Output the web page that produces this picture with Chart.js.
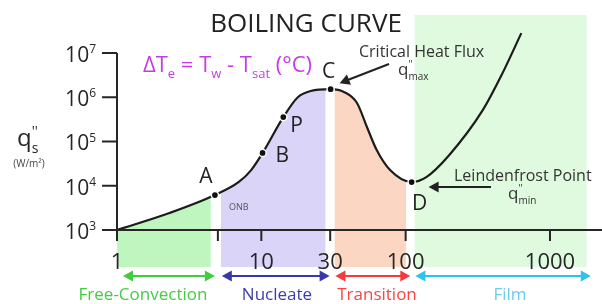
<!DOCTYPE html>
<html>
<head>
<meta charset="utf-8">
<title>Boiling Curve</title>
<script src="https://cdn.jsdelivr.net/npm/chart.js@4"></script>
<style>
    html, body { margin: 0; padding: 0; background: #fff; }
    #wrap { width: 602px; height: 304px; }
</style>
</head>
<body>
<div id="wrap"><canvas id="boiling" width="602" height="304"></canvas></div>
<script>
// excess temperature ΔTe (°C) and surface heat flux q"s (W/m²)
const curveT = [1, 2.31, 4.77, 6.95, 8.5, 10.2, 14.2, 17.9, 22, 30.2, 37.6, 46, 54, 63, 78, 110, 139, 200, 342, 469, 633];
const curveQ = [1e3, 2.42e3, 6.17e3, 1.2e4, 2.26e4, 5.5e4, 3.55e5, 1.0e6, 1.38e6, 1.52e6, 1.3e6, 7.4e5, 2.1e5, 6.4e4, 2.26e4, 1.21e4, 1.57e4, 4.9e4, 5.1e5, 3.5e6, 2.8e7];

const pointNames = ["A", "B", "P", "C", "D"];
const pointT = [4.77, 10.2, 14.2, 30.2, 110];
const pointQ = [6.17e3, 5.5e4, 3.55e5, 1.52e6, 1.21e4];

const T_MIN = 1;
const T_MAX = 2100;
const Q_MIN = 146;
const Q_MAX = 7.2e7;

// boiling regimes: edges in ΔTe and the flux at each edge
const regionNames = ["Free-Convection", "Nucleate", "Transition", "Film"];
const regionFromT = [1, 5.24, 32.1, 115];
const regionToT = [4.47, 27.9, 101, 1800];
const regionFromQ = [1e3, 6.85e3, 1.5e6, Q_MAX];
const regionToQ = [5.7e3, 1.5e6, 1.25e4, Q_MAX];

const xTicks = [1, 5, 10, 30, 100, 1000];
const xTickLabels = ["1", "", "10", "30", "100", "1000"];
const yTicks = [1e3, 1e4, 1e5, 1e6, 1e7];
const yTickExp = ["3", "4", "5", "6", "7"];

const FONT = "'Open Sans', 'DejaVu Sans', sans-serif";
const INK = "#262626";
const regionFill = ["#bff6bf", "#d9d4f8", "#fbd6c3", "#dffadf"];
const regionInk = ["#3fcc3f", "#3838a8", "#f53a3a", "#2ec2ef"];
const regionText = ["#44cc44", "#3d3daa", "#f54545", "#6ccbf0"];

function drawRuns(ctx, parts, x, y, size, color, align) {
    // parts: [text, "" | "sub" | "sup" | "sup0"]; sup0 sits over the following sub
    const fontFor = (k) => `${k ? Math.round(size * 0.58) : size}px ${FONT}`;
    let total = 0;
    parts.forEach(([t, k]) => {
        ctx.font = fontFor(k);
        if (k !== "sup0") total += ctx.measureText(t).width;
    });
    let cx = align === "right" ? x - total : align === "center" ? x - total / 2 : x;
    ctx.fillStyle = color;
    ctx.textAlign = "left";
    ctx.textBaseline = "alphabetic";
    parts.forEach(([t, k]) => {
        ctx.font = fontFor(k);
        const dy = k === "sub" ? size * 0.28 : k ? -size * 0.42 : 0;
        ctx.fillText(t, cx, y + dy);
        if (k !== "sup0") cx += ctx.measureText(t).width;
    });
}

function arrow(ctx, x1, y1, x2, y2, color, both) {
    const a = Math.atan2(y2 - y1, x2 - x1);
    const len = 10, half = 5.5;
    ctx.strokeStyle = color;
    ctx.fillStyle = color;
    ctx.lineWidth = 2;
    ctx.beginPath();
    ctx.moveTo(x1 + (both ? Math.cos(a) * len * 0.8 : 0), y1 + (both ? Math.sin(a) * len * 0.8 : 0));
    ctx.lineTo(x2 - Math.cos(a) * len * 0.8, y2 - Math.sin(a) * len * 0.8);
    ctx.stroke();
    const head = (hx, hy, ang) => {
        ctx.beginPath();
        ctx.moveTo(hx, hy);
        ctx.lineTo(hx - Math.cos(ang) * len - Math.sin(ang) * half, hy - Math.sin(ang) * len + Math.cos(ang) * half);
        ctx.lineTo(hx - Math.cos(ang) * len + Math.sin(ang) * half, hy - Math.sin(ang) * len - Math.cos(ang) * half);
        ctx.closePath();
        ctx.fill();
    };
    head(x2, y2, a);
    if (both) head(x1, y1, a + Math.PI);
}

const annotations = {
    id: "annotations",
    afterDatasetsDraw(chart) {
        const ctx = chart.ctx;
        const xs = chart.scales.x;
        const ys = chart.scales.y;
        const px = (v) => xs.getPixelForValue(v);
        const py = (v) => ys.getPixelForValue(v);
        const x0 = px(T_MIN);
        const yBase = py(yTicks[0]);

        ctx.save();
        // axes
        ctx.strokeStyle = INK;
        ctx.lineWidth = 2;
        ctx.beginPath();
        ctx.moveTo(x0, py(yTicks[yTicks.length - 1]));
        ctx.lineTo(x0, yBase);
        ctx.moveTo(x0 - 15, yBase);
        ctx.lineTo(chart.width, yBase);
        yTicks.forEach((v) => {
            ctx.moveTo(x0 - 15, py(v));
            ctx.lineTo(x0, py(v));
        });
        xTicks.forEach((v) => {
            ctx.moveTo(px(v), yBase);
            ctx.lineTo(px(v), yBase + 11);
        });
        ctx.stroke();

        yTicks.forEach((v, i) => {
            drawRuns(ctx, [["10", ""], [yTickExp[i], "sup"]], x0 - 21, py(v) + 9, 21, INK, "right");
        });
        ctx.font = `22px ${FONT}`;
        ctx.fillStyle = INK;
        ctx.textAlign = "center";
        xTicks.forEach((v, i) => {
            if (xTickLabels[i]) ctx.fillText(xTickLabels[i], px(v), 269);
        });

        // y title
        drawRuns(ctx, [["q", ""], ["''", "sup0"], ["s", "sub"]], 17, 146, 24, INK, "left");
        ctx.font = `10px ${FONT}`;
        ctx.fillStyle = "#444";
        ctx.textAlign = "center";
        ctx.fillText("(W/m²)", 29, 167);

        // title + definition
        ctx.font = `26px ${FONT}`;
        ctx.fillStyle = "#222";
        ctx.textAlign = "center";
        ctx.fillText("BOILING CURVE", 306, 32);
        drawRuns(ctx, [["ΔT", ""], ["e", "sub"], [" = T", ""], ["w", "sub"], [" - T", ""], ["sat", "sub"], [" (°C)", ""]],
            143, 72, 22, "#c63ce4", "left");

        // point letters
        const offs = [[-9, -12, "center"], [13, 9, "left"], [7, 15, "left"], [-2, -11, "center"], [8, 28, "center"]];
        ctx.font = `21px ${FONT}`;
        ctx.fillStyle = "#222";
        pointNames.forEach((n, i) => {
            ctx.textAlign = offs[i][2];
            ctx.fillText(n, px(pointT[i]) + offs[i][0], py(pointQ[i]) + offs[i][1]);
        });
        ctx.font = `9px ${FONT}`;
        ctx.fillStyle = "#555";
        ctx.textAlign = "left";
        ctx.fillText("ONB", px(pointT[0]) + 14, py(pointQ[0]) + 15);

        // critical heat flux
        ctx.font = `16px ${FONT}`;
        ctx.fillStyle = "#333";
        ctx.fillText("Critical Heat Flux", 359, 57);
        drawRuns(ctx, [["q", ""], ["''", "sup0"], ["max", "sub"]], 398, 75, 17, "#333", "left");
        arrow(ctx, 389, 64, px(pointT[3]) + 9, py(pointQ[3]) - 6, "#222", false);

        // Leidenfrost point
        ctx.font = `16px ${FONT}`;
        ctx.fillStyle = "#333";
        ctx.textAlign = "left";
        ctx.fillText("Leindenfrost Point", 454, 181);
        drawRuns(ctx, [["q", ""], ["''", "sup0"], ["min", "sub"]], 508, 199, 17, "#333", "left");
        arrow(ctx, 491, 187, px(pointT[4]) + 17, 187, "#222", false);

        // regime arrows and names
        const labelX = [143, 277, 377, 510];
        regionNames.forEach((name, i) => {
            const a = px(regionFromT[i]) + (i === 0 ? 6 : 1);
            const b = Math.min(px(regionToT[i]) + 4, chart.width - 3);
            arrow(ctx, a, 276, b, 276, regionInk[i], true);
            ctx.font = `17px ${FONT}`;
            ctx.fillStyle = regionText[i];
            ctx.textAlign = "center";
            ctx.fillText(name, labelX[i], 300);
        });
        ctx.restore();
    },
};

const regionSets = regionNames.map((name, i) => {
    const inner = [];
    if (i < regionNames.length - 1) {
        curveT.forEach((t, j) => {
            if (t > regionFromT[i] && t < regionToT[i]) inner.push({ x: t, y: curveQ[j] });
        });
    }
    return {
        type: "line",
        label: name,
        data: [{ x: regionFromT[i], y: regionFromQ[i] }, ...inner, { x: regionToT[i], y: regionToQ[i] }],
        fill: "start",
        backgroundColor: regionFill[i],
        borderWidth: 0,
        pointRadius: 0,
        cubicInterpolationMode: "monotone",
        order: 3,
    };
});

new Chart(document.getElementById("boiling"), {
    type: "line",
    data: {
        datasets: [
            ...regionSets,
            {
                label: "Boiling curve",
                data: curveT.map((t, i) => ({ x: t, y: curveQ[i] })),
                borderColor: "#1c1c1c",
                borderWidth: 2.2,
                pointRadius: 0,
                fill: false,
                cubicInterpolationMode: "monotone",
                order: 2,
            },
            {
                label: "Points",
                data: pointT.map((t, i) => ({ x: t, y: pointQ[i] })),
                showLine: false,
                pointRadius: 3.6,
                pointBackgroundColor: "#111",
                pointBorderColor: "#fff",
                pointBorderWidth: 1.5,
                order: 1,
            },
        ],
    },
    options: {
        responsive: false,
        devicePixelRatio: 1,
        animation: false,
        layout: { padding: { left: 117, right: 0, top: 15, bottom: 37 } },
        plugins: { legend: { display: false }, tooltip: { enabled: false } },
        scales: {
            x: { type: "logarithmic", min: T_MIN, max: T_MAX, bounds: "data", display: false },
            y: { type: "logarithmic", min: Q_MIN, max: Q_MAX, bounds: "data", display: false },
        },
    },
    plugins: [annotations],
});
</script>
</body>
</html>
